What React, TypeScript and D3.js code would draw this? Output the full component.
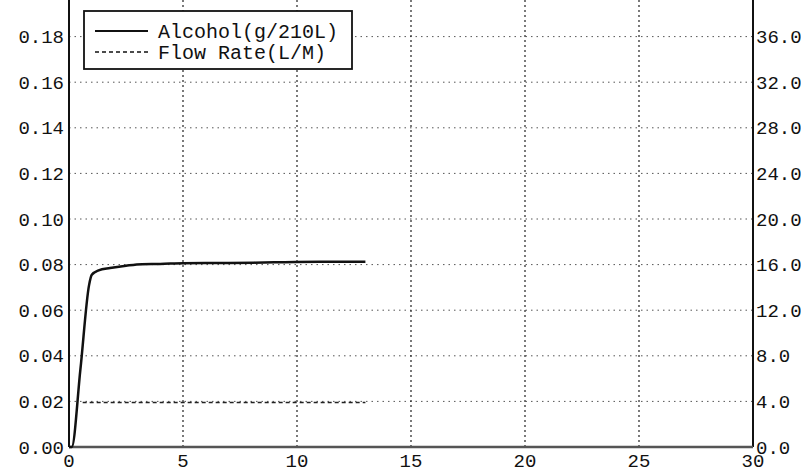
import * as React from "react";
import { useEffect, useRef } from "react";
import { select, scaleLinear, line, curveMonotoneX } from "d3";

// alcohol reading over time (s), g/210L
const alcoholTime = [0, 0.12, 0.5, 0.88, 1.0, 1.3, 1.8, 2.5, 3.2, 4, 5, 7, 9, 11, 13];
const alcoholValue = [0, 0.0, 0.034, 0.071, 0.0755, 0.0775, 0.0785, 0.0795, 0.0802, 0.0803, 0.0806, 0.0807, 0.081, 0.0812, 0.0812];

// flow rate over time (s), L/M
const flowTime = [0.6, 3, 6, 9, 12, 13];
const flowValue = [3.9, 3.9, 3.9, 3.9, 3.9, 3.9];

const xTicks = [0, 5, 10, 15, 20, 25, 30];
const leftTicks = [0, 0.02, 0.04, 0.06, 0.08, 0.1, 0.12, 0.14, 0.16, 0.18, 0.2];
const rightTicks = [0, 4, 8, 12, 16, 20, 24, 28, 32, 36, 40];

const legendItems = ["Alcohol(g/210L)", "Flow Rate(L/M)"];

const W = 801;
const H = 470;
const FONT = "'Liberation Mono', 'DejaVu Sans Mono', monospace";

function App() {
  const svgRef = useRef<SVGSVGElement>(null);

  useEffect(() => {
    const svg = select(svgRef.current);
    svg.selectAll("*").remove();

    const x = scaleLinear().domain([0, 30]).range([69, 753]);
    const yL = scaleLinear().domain([0, 0.2]).range([447, -9]);
    const yR = scaleLinear().domain([0, 40]).range([447, -9]);

    const g = svg.append("g");

    // grid
    g.selectAll(".hgrid")
      .data(leftTicks.slice(1))
      .join("line")
      .attr("x1", x(0))
      .attr("x2", x(30))
      .attr("y1", (d) => yL(d))
      .attr("y2", (d) => yL(d))
      .attr("stroke", "#555")
      .attr("stroke-width", 1)
      .attr("stroke-dasharray", "1.5,4");

    g.selectAll(".vgrid")
      .data(xTicks.slice(1, -1))
      .join("line")
      .attr("x1", (d) => x(d))
      .attr("x2", (d) => x(d))
      .attr("y1", 0)
      .attr("y2", yL(0))
      .attr("stroke", "#222")
      .attr("stroke-width", 1.2)
      .attr("stroke-dasharray", "2,3");

    // frame
    g.append("line")
      .attr("x1", x(0)).attr("x2", x(0))
      .attr("y1", 0).attr("y2", yL(0))
      .attr("stroke", "#111").attr("stroke-width", 2);
    g.append("line")
      .attr("x1", x(30)).attr("x2", x(30))
      .attr("y1", 0).attr("y2", yL(0))
      .attr("stroke", "#111").attr("stroke-width", 2);
    g.append("line")
      .attr("x1", x(0)).attr("x2", x(30))
      .attr("y1", yL(0)).attr("y2", yL(0))
      .attr("stroke", "#555").attr("stroke-width", 2.5);

    // left labels
    g.selectAll(".ly")
      .data(leftTicks)
      .join("text")
      .attr("x", x(0) - 5)
      .attr("y", (d) => yL(d))
      .attr("dy", "0.35em")
      .attr("text-anchor", "end")
      .attr("font-family", FONT)
      .attr("font-size", 19)
      .attr("fill", "#111")
      .text((d) => d.toFixed(2));

    // right labels
    g.selectAll(".ry")
      .data(rightTicks)
      .join("text")
      .attr("x", x(30) + 3)
      .attr("y", (d) => yR(d))
      .attr("dy", "0.35em")
      .attr("font-family", FONT)
      .attr("font-size", 19)
      .attr("fill", "#111")
      .text((d) => d.toFixed(1));

    // x labels
    g.selectAll(".xl")
      .data(xTicks)
      .join("text")
      .attr("x", (d) => x(d))
      .attr("y", yL(0) + 20)
      .attr("text-anchor", "middle")
      .attr("font-family", FONT)
      .attr("font-size", 19)
      .attr("fill", "#111")
      .text((d) => String(d));

    // series
    const alcohol = alcoholTime.map((t, i) => [t, alcoholValue[i]]);
    const flow = flowTime.map((t, i) => [t, flowValue[i]]);

    const alcLine = line<number[]>()
      .x((d) => x(d[0]))
      .y((d) => yL(d[1]))
      .curve(curveMonotoneX);
    const flowLine = line<number[]>()
      .x((d) => x(d[0]))
      .y((d) => yR(d[1]));

    g.append("path")
      .attr("d", flowLine(flow))
      .attr("fill", "none")
      .attr("stroke", "#222")
      .attr("stroke-width", 1.5)
      .attr("stroke-dasharray", "4,3");

    g.append("path")
      .attr("d", alcLine(alcohol))
      .attr("fill", "none")
      .attr("stroke", "#111")
      .attr("stroke-width", 2.5);

    // legend
    const lg = g.append("g");
    lg.append("rect")
      .attr("x", 84)
      .attr("y", 11)
      .attr("width", 268)
      .attr("height", 58)
      .attr("fill", "#fff")
      .attr("stroke", "#111")
      .attr("stroke-width", 1.8);
    legendItems.forEach((name, i) => {
      const yy = 31 + i * 21;
      lg.append("line")
        .attr("x1", 95).attr("x2", 148)
        .attr("y1", yy).attr("y2", yy)
        .attr("stroke", "#111")
        .attr("stroke-width", i === 0 ? 2 : 1.5)
        .attr("stroke-dasharray", i === 0 ? null : "4,3");
      lg.append("text")
        .attr("x", 158)
        .attr("y", yy)
        .attr("dy", "0.35em")
        .attr("font-family", FONT)
        .attr("font-size", 20)
        .attr("fill", "#111")
        .text(name);
    });
  }, []);

  return (
    <svg
      ref={svgRef}
      width={W}
      height={H}
      style={{ position: "absolute", left: 0, top: 0, background: "#fff" }}
    />
  );
}

export default App;
